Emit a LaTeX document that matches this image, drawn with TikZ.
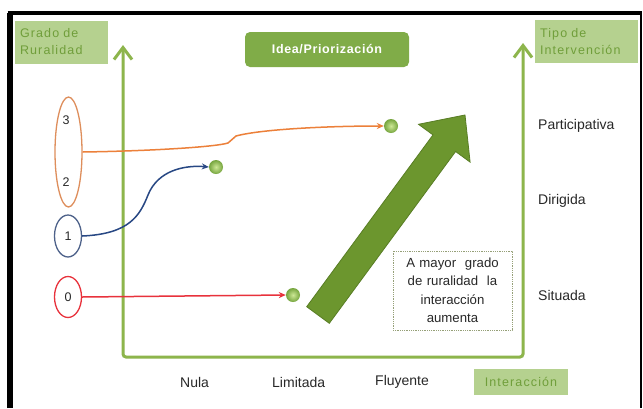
\documentclass[tikz,border=0pt]{standalone}
\usepackage{fontspec}
\setmainfont{Liberation Sans}
\newfontfamily\spacedfont[LetterSpace=9]{Liberation Sans}
\newfontfamily\spacedbold[LetterSpace=5]{Liberation Sans Bold}
\usetikzlibrary{arrows.meta,shapes.geometric,calc}
\definecolor{axisg}{RGB}{141,181,76}
\definecolor{lightg}{RGB}{181,209,143}
\definecolor{lgtext}{RGB}{112,158,58}
\definecolor{ideag}{RGB}{128,172,72}
\definecolor{bigarrow}{RGB}{108,150,46}
\definecolor{bigedge}{RGB}{88,125,36}
\definecolor{orng}{RGB}{236,128,58}
\definecolor{orell}{RGB}{222,142,92}
\definecolor{blu}{RGB}{40,72,132}
\definecolor{bluell}{RGB}{78,98,138}
\definecolor{rd}{RGB}{232,50,60}
\definecolor{notebd}{RGB}{150,160,120}
\definecolor{txt}{RGB}{40,40,40}
\definecolor{dotin}{RGB}{205,232,150}
\definecolor{dotout}{RGB}{118,165,62}
\begin{document}
\begin{tikzpicture}[x=1pt,y=-1pt,
  every node/.style={font=\fontsize{14}{16}\selectfont, text=txt},
  lgbox/.style={fill=lightg, inner sep=0pt, text=lgtext, font=\spacedfont\fontsize{12.5}{17}\selectfont},
  ellbox/.style={ellipse, draw, line width=1.3pt, inner sep=0pt, minimum width=27pt},
  dot/.style={circle, minimum size=14pt, inner sep=0pt, shading=radial, inner color=dotin, outer color=dotout},
  conn/.style={line width=1.5pt, -{Stealth[length=7pt,width=6pt]}},
  axisline/.style={draw=axisg, line width=3pt, rounded corners=3pt},
  lbl/.style={anchor=west, inner sep=0pt}
]
\useasboundingbox (0,0) rectangle (643,408);
\fill[white] (0,0) rectangle (643,408);
% frame
\draw[line width=5.5pt] (10,408) -- (10,13);
\draw[line width=4pt] (7.5,13) -- (642,13);
\draw[line width=2.5pt] (641,13) -- (641,408);

% axes
\coordinate (ytop) at (123,45);
\coordinate (o) at (123,357);
\coordinate (xr) at (523,357);
\coordinate (rtop) at (523,43);
\draw[axisline, {Straight Barb[length=12pt,width=18pt]}-{Straight Barb[length=12pt,width=18pt]}] (ytop) -- (o) -- (xr) -- (rtop);

% title boxes
\node[lgbox, minimum width=93pt, minimum height=43pt, text width=83pt, align=left] (grado) at (61.5,42) {Grado de\\Ruralidad};
\node[lgbox, minimum width=103pt, minimum height=43pt, text width=93pt, align=left] (tipo) at (586.5,41.5) {Tipo de\\Intervención};
\node[lgbox, minimum width=94pt, minimum height=26pt] (inter) at (521,382) {Interacción};
\node[fill=ideag, rounded corners=5pt, minimum width=164pt, minimum height=35pt, inner sep=0pt, text=white, font=\spacedbold\fontsize{12.5}{14}\selectfont] (idea) at (327,49.5) {Idea/Priorización};

% ellipses
\node[ellbox, draw=orell, minimum height=110pt] (e3) at (68.5,152) {};
\node[font=\fontsize{12.5}{14}\selectfont] (n3) at (66,120) {3};
\node[font=\fontsize{12.5}{14}\selectfont] (n2) at (66,182) {2};
\node[ellbox, draw=bluell, minimum height=42pt, font=\fontsize{12.5}{14}\selectfont] (e1) at (68,236) {1};
\node[ellbox, draw=rd, minimum height=41pt, font=\fontsize{12.5}{14}\selectfont] (e0) at (68,297) {0};

% dots
\node[dot] (d3) at (391,126) {};
\node[dot] (d1) at (216,167) {};
\node[dot] (d0) at (293,295) {};

% connectors
\draw[conn, draw=orng, color=orng] (e3.east) .. controls (150,151) and (215,147) .. (228,143) -- (236,136) .. controls (262,129) and (330,126) .. (d3.west);
\draw[conn, draw=blu, color=blu] (e1.east) .. controls (130,234) and (140,215) .. (148,195) .. controls (158,170) and (185,165) .. (d1.west);
\draw[conn, draw=rd, color=rd] (e0.east) -- (d0.west);

% big arrow
\filldraw[fill=bigarrow, draw=bigedge, line width=0.8pt, line join=miter]
  (306.7,306.7) -- (433,134.9) -- (418.5,124.3) -- (465,115) -- (470.1,162.1) -- (455.6,151.5) -- (329.3,323.3) -- cycle;

% note
\node[draw=notebd, densely dotted, line width=0.8pt, fill=white, minimum width=119pt, minimum height=79pt, text width=115pt, align=center, inner sep=0pt, font=\fontsize{13.2}{18.5}\selectfont] (note) at (452.5,290.5) {A mayor~ grado\\de ruralidad~ la\\interacción\\aumenta};

% right labels
\node[lbl] (part) at (538,126) {Participativa};
\node[lbl] (dir) at (538,201) {Dirigida};
\node[lbl] (sit) at (538,295) {Situada};

% bottom labels
\node[lbl] (nula) at (180,382) {Nula};
\node[lbl] (lim) at (272,382) {Limitada};
\node[lbl] (fluy) at (375,382) {Fluyente};
\end{tikzpicture}
\end{document}
